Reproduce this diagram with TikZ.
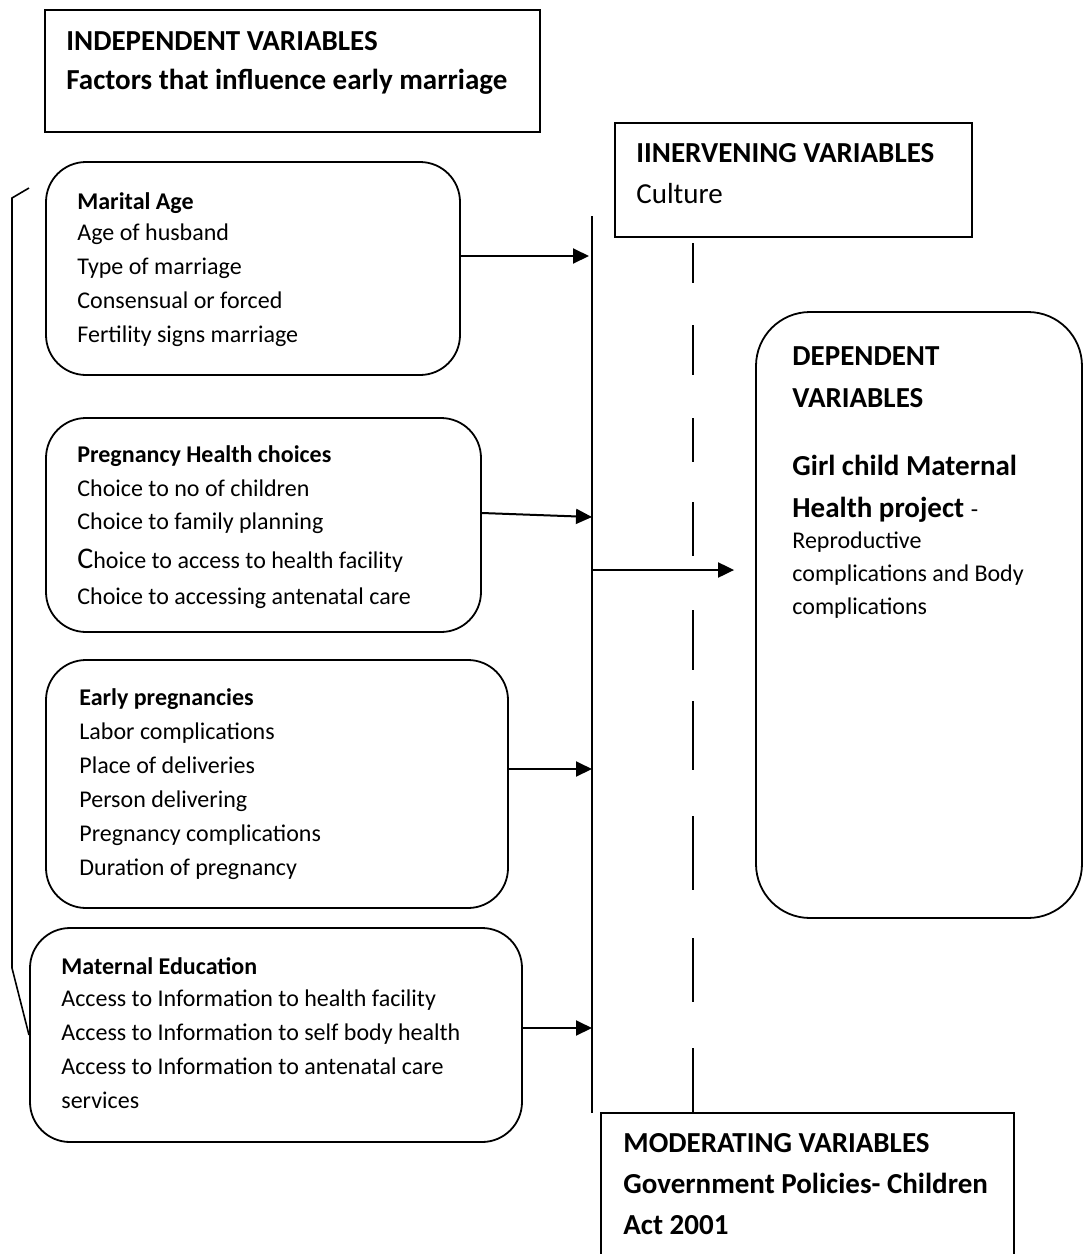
\documentclass[tikz,border=0pt]{standalone}
\usepackage{fontspec}
\setmainfont{Carlito}
\usetikzlibrary{arrows.meta,calc}
\tikzset{
  box/.style={draw, line width=0.9pt, inner sep=0pt},
  rbox/.style={box, rounded corners=#1},
  rbox/.default=20pt,
  txt/.style={anchor=base west, inner sep=0pt, font=\fontsize{12}{14}\selectfont},
  head/.style={txt, font=\bfseries\fontsize{12}{14}\selectfont},
  big/.style={txt, font=\bfseries\fontsize{14.5}{17}\selectfont},
  arr/.style={-{Triangle[length=8pt,width=7.5pt]}, line width=1pt},
  link/.style={line width=0.9pt},
  dashline/.style={line width=0.6pt},
}
\begin{document}
\begin{tikzpicture}[x=0.5pt, y=-0.5pt]
\clip (0,0) rectangle (1089,1254);

% boxes
\node(indep)[box, minimum width=247.5pt, minimum height=61pt] at (292.5,71) {};
\node(interv)[box, minimum width=178.5pt, minimum height=57pt] at (793.5,180) {};
\node(moder)[box, minimum width=206.5pt, minimum height=78.5pt] at (807.5,1191.5) {};
\node(dep)[rbox=27pt, minimum width=163pt, minimum height=303pt] at (919,615) {};
\node(age)[rbox, minimum width=207pt, minimum height=106.5pt] at (253,268.5) {};
\node(preg)[rbox, minimum width=217.5pt, minimum height=107pt] at (263.5,525) {};
\node(early)[rbox, minimum width=231pt, minimum height=124pt] at (277,784) {};
\node(edu)[rbox, minimum width=246pt, minimum height=107pt] at (276,1035) {};

% texts
\node(indep-1)[big] at (66,50) {INDEPENDENT VARIABLES};
\node(indep-2)[big] at (66,89) {Factors that influence early marriage};

\node(interv-1)[big] at (636,162) {IINERVENING VARIABLES};
\node(interv-2)[big, font=\fontsize{14.5}{17}\selectfont] at (636,203) {Culture};

\node(moder-1)[big] at (623,1152) {MODERATING VARIABLES};
\node(moder-2)[big] at (623,1193) {Government Policies- Children};
\node(moder-3)[big] at (623,1234) {Act 2001};

\node(dep-1)[big] at (792,365) {DEPENDENT};
\node(dep-2)[big] at (792,407) {VARIABLES};
\node(dep-3)[big] at (792,475) {Girl child Maternal};
\node(dep-4)[big] at (792,517) {Health project {\mdseries\fontsize{12}{14}\selectfont -}};
\foreach \t [count=\i from 0] in {Reproductive,complications and Body,complications}
  \node(dep-r\i)[txt] at (792,548+33*\i) {\t};

\node(age-0)[head] at (77,209) {Marital Age};
\foreach \t [count=\i] in {Age of husband,Type of marriage,Consensual or forced,Fertility signs marriage}
  \node(age-\i)[txt] at (77,206+34*\i) {\t};

\node(preg-0)[head] at (77,462) {Pregnancy Health choices};
\node(preg-1)[txt] at (77,496) {Choice to no of children};
\node(preg-2)[txt] at (77,529) {Choice to family planning};
\node(preg-3)[txt] at (77,568) {{\fontsize{15}{17}\selectfont C}hoice to access to health facility};
\node(preg-4)[txt] at (77,604) {Choice to accessing antenatal care};

\node(early-0)[head] at (79,705) {Early pregnancies};
\foreach \t [count=\i] in {Labor complications,Place of deliveries,Person delivering,Pregnancy complications,Duration of pregnancy}
  \node(early-\i)[txt] at (79,705+34*\i) {\t};

\node(edu-0)[head] at (61,974) {Maternal Education};
\foreach \t [count=\i] in {Access to Information to health facility,Access to Information to self body health,Access to Information to antenatal care,services}
  \node(edu-\i)[txt] at (61,972+34*\i) {\t};

% lines
\coordinate(spine) at (592,216);
\coordinate(spine-end) at (592,1113);
\draw[link] (spine) -- (spine-end);

\foreach \a/\b in {243/283,325/375,418/462,502/556,610/670,701/770,816/890,938/1002,1048/1113}
  \draw[dashline] (693,\a) -- (693,\b);

\draw[dashline, line width=0.8pt] (29,188) -- (12,198) -- (12,968) -- (29,1035);

\draw[arr] ([yshift=6.25pt]age.east) -- ($(spine |- 0,256)+(-3,0)$);
\draw[arr] ([yshift=6pt]preg.east) -- (spine |- 0,517);
\draw[arr] ([yshift=7.5pt]early.east) -- (spine |- 0,769);
\draw[arr] ([yshift=3.5pt]edu.east) -- (spine |- 0,1028);
\draw[arr] (spine |- 0,570) -- ($(dep.west |- 0,570)+(-21,0)$);

\end{tikzpicture}
\end{document}
